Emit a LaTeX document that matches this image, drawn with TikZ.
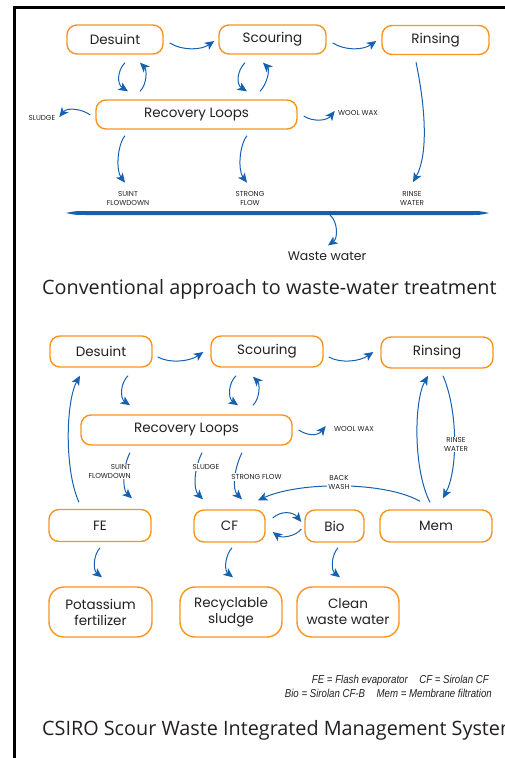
\documentclass[tikz,border=0pt]{standalone}
\usepackage{fontspec}
\setmainfont{Poppins}
\newfontfamily\titlefont{Open Sans}
\newfontfamily\legendfont[FakeStretch=0.84]{Liberation Sans}
\usetikzlibrary{arrows.meta}
\definecolor{boxorange}{RGB}{247,148,29}
\definecolor{flowblue}{RGB}{22,96,176}
\definecolor{ink}{RGB}{35,31,32}
\tikzset{
  box/.style={draw=boxorange, line width=1.4pt, rounded corners=10pt, minimum height=29pt,
    inner sep=0pt, font=\fontsize{13.5}{15}\selectfont, text=ink},
  bigbox/.style={box, rounded corners=15pt, align=center, minimum height=50pt,
    font=\fontsize{13.5}{16}\selectfont},
  flow/.style={draw=flowblue, line width=1pt, -{Stealth[length=9.5pt,width=8.5pt,inset=2.5pt]}},
  tag/.style={font=\fontsize{7.2}{8.8}\selectfont, text=ink, align=center, inner sep=1pt},
  tagw/.style={tag, fill=white},
  bigtitle/.style={font=\titlefont\fontsize{19.8}{24}\selectfont, text=ink, anchor=west, inner sep=0pt},
  legend/.style={font=\legendfont\itshape\fontsize{11.5}{13}\selectfont, text=ink, anchor=east, inner sep=0pt}
}
\begin{document}
\begin{tikzpicture}[x=1pt,y=-1pt]
\useasboundingbox (0,0) rectangle (505,758);
\clip (0,0) rectangle (505,758);
% frame
\draw[line width=3pt, black] (14,770) -- (14,7) -- (520,7);

% ---------------- top diagram ----------------
\node[box, minimum width=96pt]  (d1)  at (115,39.5)   {Desuint};
\node[box, minimum width=107pt] (s1)  at (272.5,39.5) {Scouring};
\node[box, minimum width=107pt] (r1)  at (435.5,40)   {Rinsing};
\node[box, minimum width=201pt] (rl1) at (196.5,114.5) {Recovery Loops};

\draw[flow] ([shift={(6,3.5)}]s1.east) .. controls +(13,8) and +(-13,9) .. ([shift={(-5,1)}]r1.west);
\draw[flow] ([shift={(6,3.5)}]d1.east) .. controls +(13,8) and +(-13,9) .. ([shift={(-4,1.5)}]s1.west);

\draw[flow] ([shift={(10,8)}]d1.south) .. controls +(-8,8) and +(-11,-7) .. ([shift={(-68.5,-8)}]rl1.north);
\draw[flow] ([shift={(-56.5,-8)}]rl1.north) .. controls +(7,-7) and +(7,7) .. ([shift={(25,8)}]d1.south);
\draw[flow] ([shift={(-27.5,8)}]s1.south) .. controls +(-8,8) and +(-11,-7) .. ([shift={(50.5,-8)}]rl1.north);
\draw[flow] ([shift={(63.5,-8)}]rl1.north) .. controls +(7,-7) and +(7,7) .. ([shift={(-9.5,8)}]s1.south);

\node[tag] (sl1) at (42,118) {SLUDGE};
\draw[flow] ([shift={(-5,0.5)}]rl1.west) .. controls +(-8,-6) and +(8,-10) .. ([shift={(-36,2.5)}]rl1.west);
\node[tag, anchor=west] (ww1) at (337,113) {WOOL WAX};
\draw[flow] ([shift={(6,1.5)}]rl1.east) .. controls +(9,6) and +(-8,10) .. ([shift={(37,-3.5)}]rl1.east);

\draw[flow] ([shift={(-71.5,6)}]rl1.south) .. controls +(-8,10) and +(-9,-12) .. ([shift={(-71.5,53)}]rl1.south);
\draw[flow] ([shift={(50.5,6)}]rl1.south) .. controls +(-8,10) and +(-9,-12) .. ([shift={(50.5,53)}]rl1.south);
\draw[flow] ([shift={(-19.5,7)}]r1.south) .. controls +(10,48) and +(15,-27) .. ([shift={(-22.5,127)}]r1.south);

\node[tag] (sf1) at (128,198.5) {SUINT\\FLOWDOWN};
\node[tag] (st1) at (250,198.5) {STRONG\\FLOW};
\node[tag] (rw1) at (412,198.5) {RINSE\\WATER};

% collecting bar
\fill[flowblue] (66,213) .. controls (75,211) .. (90,211) -- (470,211)
  .. controls (480,211) .. (489,213) .. controls (480,215) .. (470,215) -- (90,215)
  .. controls (75,215) .. cycle;
\coordinate (bar) at (330,215);
\node[text=ink, font=\fontsize{12.5}{14}\selectfont, inner sep=0pt] (waste) at (327,256) {Waste water};
\draw[flow] (bar) .. controls +(8,7) and +(10,-7) .. ([shift={(1,-6)}]waste.north);

\node[bigtitle] (t1) at (42,289) {Conventional approach to waste-water treatment};

% ---------------- bottom diagram ----------------
\node[box, minimum width=102pt, minimum height=31pt] (d2)  at (101,351.5) {Desuint};
\node[box, minimum width=112pt, minimum height=31pt] (s2)  at (267,351.5) {Scouring};
\node[box, minimum width=112pt, minimum height=31pt] (r2)  at (437,352.5) {Rinsing};
\node[box, minimum width=211pt, minimum height=30pt] (rl2) at (186.5,430) {Recovery Loops};
\node[box, minimum width=102pt, minimum height=32pt] (fe)  at (100,525.5) {FE};
\node[box, minimum width=71pt,  minimum height=32pt] (cf)  at (229.5,526) {CF};
\node[box, minimum width=59pt,  minimum height=32pt] (bio) at (334.5,526) {Bio};
\node[box, minimum width=112pt, minimum height=32pt] (mem) at (436,526) {Mem};
\node[bigbox, minimum width=103pt] (pot)   at (100.5,612) {Potassium\\fertilizer};
\node[bigbox, minimum width=102pt] (rec)   at (231,612)   {Recyclable\\sludge};
\node[bigbox, minimum width=102pt] (clean) at (348,612)   {Clean\\waste water};

\draw[flow] ([shift={(5,5.5)}]d2.east) .. controls +(13,7) and +(-13,9) .. ([shift={(-7,0.5)}]s2.west);
\draw[flow] ([shift={(5,5.5)}]s2.east) .. controls +(13,7) and +(-13,9) .. ([shift={(-7,-0.5)}]r2.west);

\draw[flow] ([shift={(27,8)}]d2.south) .. controls +(-8,8) and +(-10,-7) .. ([shift={(-56.5,-9)}]rl2.north);
\draw[flow] ([shift={(-31,8)}]s2.south) .. controls +(-8,8) and +(-10,-7) .. ([shift={(51.5,-9)}]rl2.north);
\draw[flow] ([shift={(66.5,-9)}]rl2.north) .. controls +(7,-7) and +(7,7) .. ([shift={(-14,9)}]s2.south);

\draw[flow] ([shift={(6,0)}]rl2.east) .. controls +(9,6) and +(-8,10) .. ([shift={(33,-4)}]rl2.east);
\node[tag, anchor=west] (ww2) at (333,429) {WOOL WAX};

\draw[flow] ([shift={(-21,-6.5)}]fe.north) .. controls +(-15,-33) and +(-14,25) .. ([shift={(-21,8)}]d2.south);
\draw[flow] ([shift={(-56.5,7)}]rl2.south) .. controls +(-7,13) and +(-10,-9) .. ([shift={(32,-10.5)}]fe.north);
\draw[flow] ([shift={(15.5,7)}]rl2.south) .. controls +(-8,16) and +(-10,-10) .. ([shift={(-26.5,-10)}]cf.north);
\draw[flow] ([shift={(55.5,7)}]rl2.south) .. controls +(-8,16) and +(-10,-10) .. ([shift={(12.5,-10)}]cf.north);
\draw[flow] ([shift={(-16,-8)}]mem.north) .. controls +(-35,-20) and +(42,-19) .. ([shift={(28.5,-9)}]cf.north);
\draw[flow] ([shift={(-6,-7)}]mem.north) .. controls +(-17,-33) and +(-14,25) .. ([shift={(-9,7)}]r2.south);
\draw[flow] ([shift={(6,7)}]r2.south) .. controls +(15,35) and +(15,-29) .. ([shift={(7,-11)}]mem.north);

\draw[flow] ([shift={(7,-8)}]cf.east) .. controls +(9,-8) and +(-8,-10) .. ([shift={(-3,-4)}]bio.west);
\draw[flow] ([shift={(-3,3)}]bio.west) .. controls +(-6,8) and +(8,6) .. ([shift={(7,6)}]cf.east);

\draw[flow] ([shift={(0,5.5)}]fe.south) .. controls +(-7,8) and +(-9,-7) .. ([shift={(1.5,-9)}]pot.north);
\draw[flow] ([shift={(2.5,5)}]cf.south) .. controls +(-7,8) and +(-9,-7) .. ([shift={(2,-9)}]rec.north);
\draw[flow] ([shift={(3.5,5)}]bio.south) .. controls +(-7,8) and +(-9,-7) .. ([shift={(-8,-9)}]clean.north);

\node[tagw, align=right, anchor=east] (sf2) at (132,471.5) {SUINT\\FLOWDOWN};
\node[tagw] (sl2) at (206,467) {SLUDGE};
\node[tagw] (st2) at (256.5,477) {STRONG FLOW};
\node[tagw] (bw2) at (339,482.5) {BACK\\WASH};
\node[tagw] (rw2) at (456,444.5) {RINSE\\WATER};

\node[legend] (lg1) at (489,681) {FE = Flash evaporator\quad CF = Sirolan CF};
\node[legend] (lg2) at (492,693) {Bio = Sirolan CF-B\quad Mem = Membrane filtration};

\node[bigtitle] (t2) at (42,730) {CSIRO Scour Waste Integrated Management System};
\end{tikzpicture}
\end{document}
